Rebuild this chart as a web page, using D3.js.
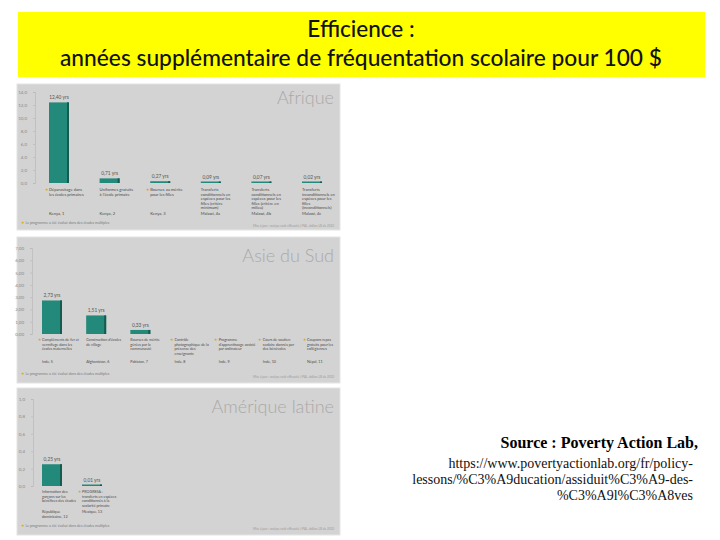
<!DOCTYPE html>
<html><head><meta charset="utf-8">
<script src="https://cdn.jsdelivr.net/npm/d3@7"></script>
<style>body{margin:0;background:#fff}svg{display:block}</style>
</head><body>
<svg id="c" width="720" height="540"></svg>
<script>
// ---- DATA ----
const titleLines = ["Efficience :", "années supplémentaire de fréquentation scolaire pour 100 $"];

const afriqueCats = ["Déparasitage dans les écoles primaires", "Uniformes gratuits à l'école primaire", "Bourses au mérite pour les filles", "Transferts conditionnels en espèces pour les filles (critère minimum)", "Transferts conditionnels en espèces pour les filles (critère en milieu)", "Transferts inconditionnels en espèces pour les filles (inconditionnels)"];
const afriqueCountries = ["Kenya, 1", "Kenya, 2", "Kenya, 3", "Malawi, 4a", "Malawi, 4b", "Malawi, 4c"];
const afriqueValues = [12.4, 0.71, 0.27, 0.09, 0.07, 0.02];
const afriqueStars = [true, false, true, false, false, false];
const afriqueTicks = [0, 2, 4, 6, 8, 10, 12, 14];

const asieCats = ["Compléments de fer et vermifuge dans les écoles maternelles", "Construction d'écoles de village", "Bourses de mérite gérées par la communauté", "Contrôle photographique de la présence des enseignants", "Programme d'apprentissage assisté par ordinateur", "Cours de soutien scolaire donnés par des bénévoles", "Coupons repas gratuits pour les collégiennes"];
const asieCountries = ["Inde, 5", "Afghanistan, 6", "Pakistan, 7", "Inde, 8", "Inde, 9", "Inde, 10", "Népal, 11"];
const asieValues = [2.73, 1.51, 0.33, null, null, null, null];
const asieStars = [true, false, false, true, true, true, true];
const asieTicks = [0, 1, 2, 3, 4, 5, 6, 7];
const asieNoImpact = "Pas d'impact significatif";

const ameriqueCats = ["Information des garçons sur les bénéfices des études", "PROGRESA : transferts en espèces conditionnés à la scolarité primaire"];
const ameriqueCountries = ["République dominicaine, 12", "Mexique, 13"];
const ameriqueValues = [0.25, 0.01];
const ameriqueStars = [false, true];
const ameriqueTicks = [0, 0.2, 0.4, 0.6, 0.8, 1.0];

const footnote = "Le programme a été évalué dans des études multiples";
const creditNote = "Mise à jour : analyse coût-efficacité J-PAL, dollars US de 2010";
const sourceLines = ["Source : Poverty Action Lab,", "https://www.povertyactionlab.org/fr/policy-", "lessons/%C3%A9ducation/assiduit%C3%A9-des-", "%C3%A9l%C3%A8ves"];

// ---- DRAW ----
const svg = d3.select("#c");
const fmt = (v, d) => v.toFixed(d).replace(".", ",");

// Title
svg.append("rect").attr("x", 18).attr("y", 12).attr("width", 687).attr("height", 65).attr("fill", "#ffff00");
svg.append("text").attr("x", 361).attr("y", 37).attr("text-anchor", "middle")
  .attr("font-family", "Lato, 'Open Sans', sans-serif").attr("font-size", 22.5).attr("font-weight", 500).attr("fill", "#111").text(titleLines[0]);
svg.append("text").attr("x", 361).attr("y", 66).attr("text-anchor", "middle")
  .attr("font-family", "Lato, 'Open Sans', sans-serif").attr("font-size", 22.5).attr("font-weight", 500).attr("fill", "#111")
  .attr("textLength", 602).attr("lengthAdjust", "spacingAndGlyphs").text(titleLines[1]);

function wrap(textSel, width) {
  textSel.each(function () {
    const t = d3.select(this);
    const words = t.text().split(/\s+/);
    const x = t.attr("x"), y = +t.attr("y"), lh = +t.attr("data-lh");
    t.text(null);
    let line = [], n = 0;
    let ts = t.append("tspan").attr("x", x).attr("y", y);
    for (const w of words) {
      line.push(w);
      ts.text(line.join(" "));
      if (ts.node().getComputedTextLength() > width && line.length > 1) {
        line.pop(); ts.text(line.join(" "));
        line = [w]; n++;
        ts = t.append("tspan").attr("x", x).attr("y", y + n * lh).text(w);
      }
    }
  });
}

function panel(cfg) {
  const g = svg.append("g");
  g.append("rect").attr("x", 17).attr("y", cfg.top).attr("width", 323).attr("height", cfg.h)
    .attr("fill", "#d3d3d3").attr("stroke", "#e4e4e4").attr("stroke-width", 1);
  g.append("text").attr("x", 334).attr("y", cfg.titleY).attr("text-anchor", "end")
    .attr("font-family", "Lato, 'Open Sans', sans-serif").attr("font-weight", 300)
    .attr("font-size", 18).attr("fill", "#a9a9a9").text(cfg.name);

  const y = d3.scaleLinear().domain([0, d3.max(cfg.ticks)]).range(cfg.yRange);
  const x = d3.scalePoint().domain(cfg.cats.map((d, i) => i)).range(cfg.xRange);

  // axis
  const ax = g.append("g").attr("transform", `translate(${cfg.axisX},0)`)
    .call(d3.axisLeft(y).tickValues(cfg.ticks).tickSize(2).tickFormat(d => fmt(d, cfg.dec)));
  ax.select(".domain").attr("stroke", "#b5b5b5").attr("stroke-width", 0.6);
  ax.selectAll(".tick line").attr("stroke", "#b5b5b5").attr("stroke-width", 0.6);
  ax.selectAll("text").attr("font-size", 4.5).attr("fill", "#8a8a8a").attr("font-family", "Lato, sans-serif").attr("dx", -3);

  const bw = 20;
  cfg.values.forEach((v, i) => {
    if (v == null) return;
    const cx = x(i);
    const yTop = y(v), h = Math.max(1.5, y(0) - yTop);
    g.append("rect").attr("x", cx - bw / 2).attr("y", y(0) - h).attr("width", bw).attr("height", h).attr("fill", "#23897a");
    g.append("rect").attr("x", cx + bw / 2 - 2).attr("y", y(0) - h).attr("width", 2).attr("height", h).attr("fill", "#135c4f");
    g.append("text").attr("x", cx).attr("y", y(0) - h - 3).attr("text-anchor", "middle")
      .attr("font-size", 4.8).attr("fill", "#555").attr("font-family", "Lato, sans-serif").text(fmt(v, 2) + " yrs");
  });

  if (cfg.noImpact) {
    const x0 = x(3) - 14, x1 = 336;
    g.append("line").attr("x1", x0).attr("x2", x1).attr("y1", y(0) - 5).attr("y2", y(0) - 5).attr("stroke", "#c7c7c7").attr("stroke-width", 0.8);
    g.append("text").attr("x", (x0 + x1) / 2 + 5).attr("y", y(0) - 8).attr("text-anchor", "middle")
      .attr("font-size", 4.5).attr("fill", "#555").attr("font-family", "Lato, sans-serif").text(cfg.noImpact);
  }

  cfg.cats.forEach((c, i) => {
    const lx = x(i) - bw / 2;
    if (cfg.stars[i]) {
      g.append("text").attr("x", lx - 4.5).attr("y", cfg.labelY).attr("font-size", 3.6).attr("fill", "#e0a800").text("★");
    }
    g.append("text").attr("x", lx).attr("y", cfg.labelY).attr("data-lh", cfg.lh)
      .attr("font-size", cfg.fs).attr("fill", "#4a4a4a").attr("font-family", "Lato, sans-serif").text(c)
      .call(wrap, cfg.wrapW);
    g.append("text").attr("x", lx).attr("y", cfg.countryY).attr("data-lh", cfg.lh)
      .attr("font-size", cfg.fs).attr("fill", "#4a4a4a").attr("font-family", "Lato, sans-serif").text(cfg.countries[i])
      .call(wrap, cfg.wrapW);
  });

  g.append("text").attr("x", 21).attr("y", cfg.footY).attr("font-size", 3.6).attr("fill", "#e0a800").text("★");
  g.append("text").attr("x", 25.5).attr("y", cfg.footY).attr("font-size", 3.6).attr("fill", "#7a7a7a")
    .attr("font-family", "Lato, sans-serif").text(footnote);
  g.append("text").attr("x", 334).attr("y", cfg.footY + 3).attr("text-anchor", "end").attr("font-size", 3).attr("fill", "#9a9a9a")
    .attr("font-family", "Lato, sans-serif").text(creditNote);
}

panel({ name: "Afrique", top: 84, h: 146, titleY: 104, cats: afriqueCats, countries: afriqueCountries, values: afriqueValues,
  stars: afriqueStars, ticks: afriqueTicks, dec: 1, yRange: [183, 92], xRange: [59, 312], axisX: 35,
  labelY: 191, countryY: 215, footY: 224, wrapW: 36, fs: 4.1, lh: 4.6 });
panel({ name: "Asie du Sud", top: 237, h: 146, titleY: 262, cats: asieCats, countries: asieCountries, values: asieValues,
  stars: asieStars, ticks: asieTicks, dec: 2, yRange: [334, 248], xRange: [52, 317], axisX: 32,
  labelY: 341, countryY: 363, footY: 375, wrapW: 37, fs: 3.7, lh: 4.5 });
panel({ name: "Amérique latine", top: 388, h: 147, titleY: 413, cats: ameriqueCats, countries: ameriqueCountries, values: ameriqueValues,
  stars: ameriqueStars, ticks: ameriqueTicks, dec: 1, yRange: [486, 399], xRange: [52, 92], axisX: 33,
  labelY: 493, countryY: 513, footY: 527, wrapW: 37, fs: 3.7, lh: 4.5 });

// Source
svg.append("text").attr("x", 698).attr("y", 448).attr("text-anchor", "end")
  .attr("font-family", "'Liberation Serif', 'Times New Roman', serif").attr("font-weight", "bold").attr("font-size", 16).attr("fill", "#000").text(sourceLines[0]);
sourceLines.slice(1).forEach((s, i) => {
  svg.append("text").attr("x", 693).attr("y", 468 + i * 16).attr("text-anchor", "end")
    .attr("font-family", "'Liberation Serif', 'Times New Roman', serif").attr("font-size", 14).attr("fill", "#111").text(s);
});
</script>
</body></html>
